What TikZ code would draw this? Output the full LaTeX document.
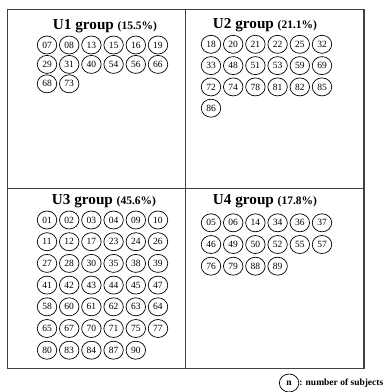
\documentclass[tikz,border=0pt]{standalone}
\usepackage{fontspec}
\setmainfont{Liberation Serif}
\usetikzlibrary{calc, positioning, shapes.geometric}

\tikzset{
    subject/.style = {draw, ellipse, line width=0.7pt, inner sep=0pt, minimum width=19.5pt, minimum height=18pt, font=\fontsize{9.5}{10}\selectfont},
    grouptitle/.style = {font=\bfseries\fontsize{15.2}{18}\selectfont, inner sep=0pt},
    frame/.style = {line width=1.2pt, black!75},
}
\newcommand{\pct}[1]{{\fontsize{11.5}{12}\selectfont(#1\%)}}

\begin{document}
\begin{tikzpicture}[x=1pt, y=-1pt]
\def\colStep{22.2}
\def\rowStep{21.7}

    \useasboundingbox (0,0) rectangle (384,392);

    %Frame
    \coordinate (NW) at (7.5,9.5);
    \coordinate (SE) at (364,368.5);
    \coordinate (N) at (185.7,9.5);
    \coordinate (S) at (185.7,368.5);
    \coordinate (W) at (7.5,188.3);
    \coordinate (E) at (364,188.3);
    \draw[frame] (NW) rectangle (SE);
    \draw[frame] (N) -- (S);
    \draw[frame] (W) -- (E);

    %Titles
    \node[grouptitle] (title1) at (105,26.5) {U1 group \pct{15.5}};
    \node[grouptitle] (title2) at (265,25) {U2 group \pct{21.1}};
    \node[grouptitle] (title3) at (104,201) {U3 group \pct{45.6}};
    \node[grouptitle] (title4) at (265,201.5) {U4 group \pct{17.8}};

    %Subjects
    \foreach \num [count=\i from 0] in {07,08,13,15,16,19,29,31,40,54,56,66,68,73}{
        \pgfmathtruncatemacro{\col}{mod(\i,6)}
        \pgfmathtruncatemacro{\row}{\i/6}
        \node[subject] (u1-\num) at (47+\col*\colStep, 45+\row*19.4) {\num};
    }
    \foreach \num [count=\i from 0] in {18,20,21,22,25,32,33,48,51,53,59,69,72,74,78,81,82,85,86}{
        \pgfmathtruncatemacro{\col}{mod(\i,6)}
        \pgfmathtruncatemacro{\row}{\i/6}
        \node[subject] (u2-\num) at (211+\col*\colStep, 44.3+\row*21.3) {\num};
    }
    \foreach \num [count=\i from 0] in {01,02,03,04,09,10,11,12,17,23,24,26,27,28,30,35,38,39,41,42,43,44,45,47,58,60,61,62,63,64,65,67,70,71,75,77,80,83,84,87,90}{
        \pgfmathtruncatemacro{\col}{mod(\i,6)}
        \pgfmathtruncatemacro{\row}{\i/6}
        \node[subject] (u3-\num) at (47+\col*\colStep, 220+\row*\rowStep) {\num};
    }
    \foreach \num [count=\i from 0] in {05,06,14,34,36,37,46,49,50,52,55,57,76,79,88,89}{
        \pgfmathtruncatemacro{\col}{mod(\i,6)}
        \pgfmathtruncatemacro{\row}{\i/6}
        \node[subject] (u4-\num) at (211+\col*\colStep, 222.8+\row*\rowStep) {\num};
    }

    %Key
    \node[anchor=east, inner sep=0pt, font=\bfseries\fontsize{9.5}{11}\selectfont] (keytext) at (383.5,383) {: number of subjects};
    \node[subject, font=\bfseries\fontsize{9.5}{10}\selectfont, left=0pt of keytext] (key) {n};
\end{tikzpicture}
\end{document}
